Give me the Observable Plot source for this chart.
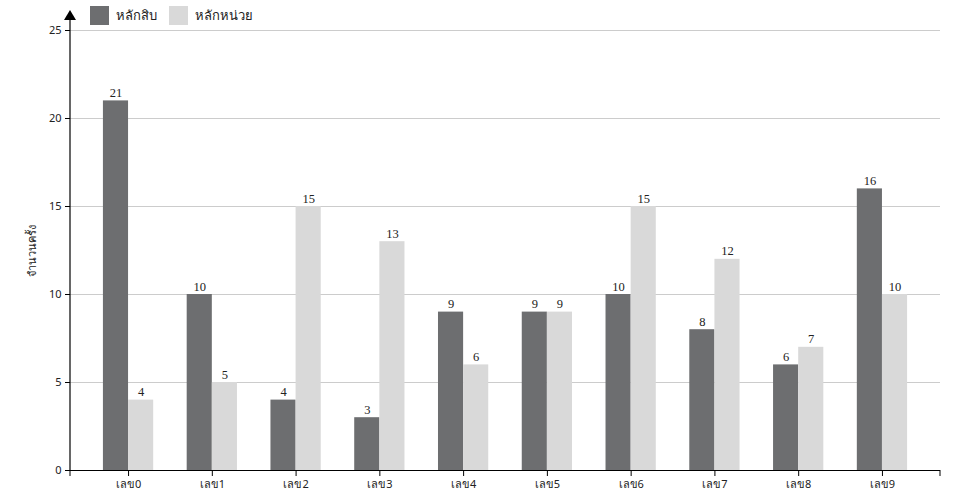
<!DOCTYPE html>
<html>
<head>
<meta charset="utf-8">
<script src="https://cdn.jsdelivr.net/npm/d3@7"></script>
<script src="https://cdn.jsdelivr.net/npm/@observablehq/plot@0.6"></script>
<style>
  body { margin: 0; background: #fff; font-family: "Noto Sans", "DejaVu Sans", sans-serif; }
  #wrap { position: relative; width: 960px; height: 500px; }
  #legend { position: absolute; left: 90px; top: 5px; display: flex; align-items: center; font-size: 13px; color: #222; }
  #legend .item { display: flex; align-items: center; margin-right: 12px; }
  #legend .sw { width: 19px; height: 19px; margin-right: 7px; }
</style>
</head>
<body>
<div id="wrap">
  <div id="legend"></div>
</div>
<script>
const categories = ["เลข0","เลข1","เลข2","เลข3","เลข4","เลข5","เลข6","เลข7","เลข8","เลข9"];
const seriesNames = ["หลักสิบ", "หลักหน่วย"];
const tens  = [21, 10, 4, 3, 9, 9, 10, 8, 6, 16];
const units = [4, 5, 15, 13, 6, 9, 15, 12, 7, 10];
const yTicks = [0, 5, 10, 15, 20, 25];
const colors = ["#6d6e70", "#d9d9d9"];

const W = 960, H = 500, mL = 70, mR = 20, mT = 30, mB = 30;
const pIn = 0.4, pOut = 0.393;
const step = (W - mL - mR) / (categories.length - pIn + 2 * pOut);
const half = step * (1 - pIn) / 2;

const dataTens = categories.map((c, i) => ({cat: c, v: tens[i]}));
const dataUnits = categories.map((c, i) => ({cat: c, v: units[i]}));

const plot = Plot.plot({
  width: W, height: H,
  marginLeft: mL, marginRight: mR, marginTop: mT, marginBottom: mB,
  style: {fontFamily: "'Noto Sans', 'DejaVu Sans', sans-serif", fontSize: "11px", color: "#222", background: "#fff"},
  x: {domain: categories, paddingInner: pIn, paddingOuter: pOut, round: false, label: null},
  y: {domain: [0, 25], ticks: yTicks, label: null},
  marks: [
    Plot.gridY(yTicks, {stroke: "#cccccc", strokeOpacity: 1}),
    Plot.barY(dataTens, {x: "cat", y: "v", fill: colors[0], insetRight: half}),
    Plot.barY(dataUnits, {x: "cat", y: "v", fill: colors[1], insetLeft: half}),
    Plot.text(dataTens, {x: "cat", y: "v", text: "v", dx: -half / 2, dy: -4, lineAnchor: "bottom", fontFamily: "'Liberation Serif', 'Times New Roman', serif", fontSize: 12.5, fill: "#222"}),
    Plot.text(dataUnits, {x: "cat", y: "v", text: "v", dx: half / 2, dy: -4, lineAnchor: "bottom", fontFamily: "'Liberation Serif', 'Times New Roman', serif", fontSize: 12.5, fill: "#222"}),
    Plot.axisY(yTicks, {tickSize: 5, tickPadding: 4, stroke: "#000", label: "จำนวนครั้ง", labelAnchor: "center", labelOffset: 42, labelArrow: "none"}),
    Plot.axisX({tickSize: 6, tickPadding: 4, stroke: "#000", label: null}),
    Plot.ruleY([0], {stroke: "#000", strokeWidth: 1.2})
  ]
});

document.getElementById("wrap").appendChild(plot);

// axis line, arrow and end ticks using the library's scales
const ys = plot.scale("y");
const y0 = ys.apply(0), y25 = ys.apply(25);
const svg = d3.select(plot);
const g = svg.append("g");
g.append("line").attr("x1", mL).attr("x2", mL).attr("y1", y0).attr("y2", y25 - 10).attr("stroke", "#000").attr("stroke-width", 1.2);
g.append("path").attr("d", `M${mL - 6},${y25 - 10}L${mL + 6},${y25 - 10}L${mL},${y25 - 20}Z`).attr("fill", "#000");
g.append("line").attr("x1", mL).attr("x2", mL).attr("y1", y0).attr("y2", y0 + 6).attr("stroke", "#000");
g.append("line").attr("x1", W - mR).attr("x2", W - mR).attr("y1", y0).attr("y2", y0 + 6).attr("stroke", "#000");

// legend
const legend = d3.select("#legend");
seriesNames.forEach((n, i) => {
  const it = legend.append("div").attr("class", "item");
  it.append("div").attr("class", "sw").style("background", colors[i]);
  it.append("span").text(n);
});
</script>
</body>
</html>
